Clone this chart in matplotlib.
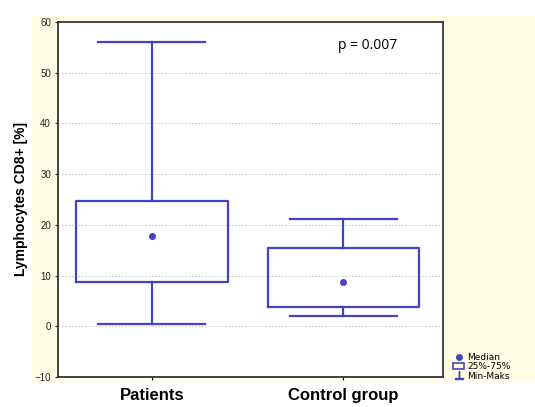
import matplotlib
matplotlib.use("Agg")
from matplotlib import pyplot as plt
from matplotlib.patches import Rectangle, Patch
from matplotlib.lines import Line2D

# Box plot values (Lymphocytes CD8+ [%])
groups = ["Patients", "Control group"]
minimum = [0.4, 2.0]
q1 = [8.7, 3.9]
median = [17.9, 8.7]
q3 = [24.7, 15.5]
maximum = [56.1, 21.1]

blue = "#4343C4"
panel = "#FFFDE3"

fig = plt.figure(figsize=(5.35, 4.07), dpi=100)

# Yellow panel behind the plot area
fig.patches.append(Rectangle((32 / 535, 1 - 382 / 407), (535 - 32) / 535, (382 - 15) / 407,
                             transform=fig.transFigure, facecolor=panel, edgecolor="none", zorder=-5))

ax = fig.add_axes([58 / 535, 30 / 407, (443 - 58) / 535, (377 - 22) / 407])
ax.set_zorder(2)
ax.set_facecolor("white")

stats = []
for i, name in enumerate(groups):
    stats.append({"label": name, "whislo": minimum[i], "q1": q1[i], "med": median[i],
                  "q3": q3[i], "whishi": maximum[i], "mean": median[i]})

ax.bxp(stats, positions=[1, 2], widths=0.79, capwidths=0.56, showmeans=True,
       showfliers=False,
       boxprops=dict(color=blue, linewidth=1.6),
       whiskerprops=dict(color=blue, linewidth=1.6),
       capprops=dict(color=blue, linewidth=1.6),
       medianprops=dict(linestyle="none"),
       meanprops=dict(marker="o", markersize=4, markerfacecolor=blue, markeredgecolor=blue))

ax.set_xlim(0.51, 2.52)
ax.set_ylim(-10, 60)
ax.set_yticks(range(-10, 61, 10))
for y in range(0, 60, 10):
    ax.axhline(y, color="#C4C4C4", linestyle=(0, (2, 2)), linewidth=0.6, zorder=0)

for s in ax.spines.values():
    s.set_color("#333333")
    s.set_linewidth(1.3)

ax.tick_params(axis="y", labelsize=7, length=2, width=0.8, pad=3, colors="#222222")
ax.tick_params(axis="x", length=2, width=0.8, pad=6)
ax.set_xticks([1, 2])
ax.set_xticklabels(groups, fontsize=12, fontweight="bold", family="Liberation Sans")
for lab in ax.get_yticklabels():
    lab.set_family("Liberation Sans")

ax.set_ylabel("Lymphocytes CD8+ [%]", fontsize=10, fontweight="bold", family="Liberation Sans",
              labelpad=5)

ax.text(0.88, 0.935, "p = 0.007", transform=ax.transAxes, ha="right", va="center",
        fontsize=10, family="Open Sans")

handles = [Line2D([], [], marker="o", linestyle="none", color=blue, markersize=4),
           Patch(facecolor="none", edgecolor=blue, linewidth=1.2),
           Line2D([], [], marker="$\\perp$", linestyle="none", color=blue, markersize=6)]
fig.legend(handles, ["Median", "25%-75%", "Min-Maks"], loc="lower left",
           bbox_to_anchor=(448 / 535, 1 - 386 / 407), frameon=False, fontsize=6.5,
           handlelength=1.2, handletextpad=0.3, labelspacing=0.05, borderpad=0.1)

fig.savefig("out.png", dpi=100)
